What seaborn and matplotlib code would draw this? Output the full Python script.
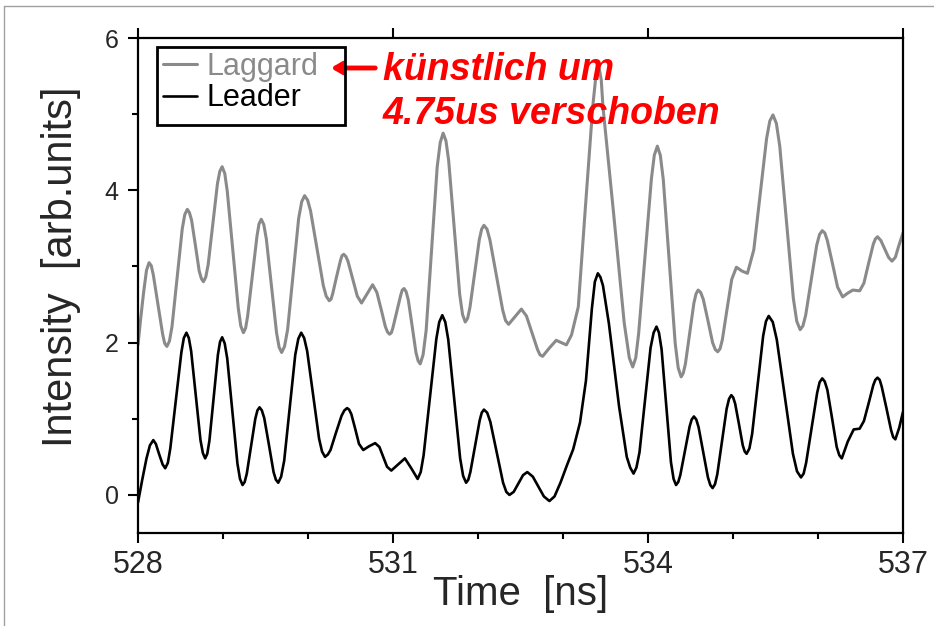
import numpy as np
import pandas as pd
import seaborn as sns
import matplotlib.pyplot as plt
from matplotlib.lines import Line2D
from matplotlib.patches import Rectangle

# values (time in ns, intensity in arb. units)
laggard_t = [528.00, 528.03, 528.065, 528.10, 528.13, 528.18, 528.235, 528.29, 528.34, 528.40,
             528.46, 528.52, 528.58, 528.63, 528.675, 528.72, 528.77, 528.825, 528.88, 528.935,
             528.99, 529.05, 529.115, 529.18, 529.24, 529.29, 529.345, 529.40, 529.45, 529.51,
             529.57, 529.63, 529.69, 529.76, 529.825, 529.89, 529.96, 530.03, 530.105, 530.18,
             530.25, 530.29, 530.335, 530.38, 530.42, 530.47, 530.525, 530.58, 530.63, 530.695,
             530.76, 530.81, 530.86, 530.91, 530.96, 531.00, 531.045, 531.09, 531.13, 531.18,
             531.225, 531.27, 531.32, 531.39, 531.455, 531.52, 531.59, 531.655, 531.72, 531.785,
             531.85, 531.905, 531.96, 532.015, 532.07, 532.14, 532.215, 532.29, 532.36, 532.435,
             532.51, 532.57, 532.635, 532.70, 532.76, 532.84, 532.92, 532.98, 533.04, 533.10,
             533.18, 533.265, 533.35, 533.385, 533.42, 533.45, 533.47, 533.595, 533.72, 533.78,
             533.82, 533.89, 533.965, 534.04, 534.11, 534.18, 534.25, 534.32, 534.39, 534.44,
             534.49, 534.54, 534.59, 534.65, 534.705, 534.76, 534.82, 534.875, 534.93, 534.985,
             535.04, 535.105, 535.17, 535.245, 535.32, 535.395, 535.47, 535.55, 535.63, 535.71,
             535.79, 535.855, 535.92, 535.985, 536.05, 536.11, 536.17, 536.23, 536.29, 536.35,
             536.41, 536.49, 536.54, 536.595, 536.65, 536.70, 536.74, 536.785, 536.83, 536.87,
             536.91, 536.95, 537.00]
laggard_v = [1.97, 2.30, 2.65, 2.95, 3.05, 2.89, 2.50, 2.11, 1.95, 2.21,
             2.85, 3.49, 3.75, 3.61, 3.28, 2.94, 2.80, 3.02, 3.56, 4.09,
             4.31, 3.99, 3.22, 2.45, 2.13, 2.35, 2.88, 3.40, 3.62, 3.36,
             2.75, 2.13, 1.87, 2.17, 2.90, 3.63, 3.93, 3.73, 3.24, 2.75,
             2.55, 2.64, 2.86, 3.07, 3.16, 3.07, 2.84, 2.61, 2.52, 2.64,
             2.76, 2.66, 2.44, 2.21, 2.11, 2.20, 2.41, 2.62, 2.71, 2.56,
             2.22, 1.87, 1.72, 2.16, 3.24, 4.31, 4.75, 4.39, 3.51, 2.63,
             2.27, 2.46, 2.91, 3.35, 3.54, 3.35, 2.89, 2.43, 2.24, 2.34,
             2.44, 2.35, 2.13, 1.91, 1.82, 1.93, 2.03, 2.00, 1.97, 2.10,
             2.47, 3.80, 5.10, 5.48, 5.64, 5.45, 5.10, 3.70, 2.26, 1.80,
             1.68, 2.12, 3.13, 4.15, 4.58, 4.14, 3.07, 1.99, 1.55, 1.72,
             2.12, 2.52, 2.69, 2.57, 2.29, 2.00, 1.88, 2.04, 2.44, 2.83,
             2.99, 2.94, 2.91, 3.22, 3.95, 4.68, 4.99, 4.58, 3.58, 2.58,
             2.17, 2.36, 2.82, 3.28, 3.47, 3.34, 3.04, 2.73, 2.60, 2.65,
             2.69, 2.68, 2.78, 3.04, 3.29, 3.39, 3.34, 3.23, 3.12, 3.07,
             3.12, 3.27, 3.44]
# extra readings close to the rounded tops and bottoms
laggard_t2 = [528.156, 528.314, 528.37, 528.55, 528.604, 528.746, 528.797, 528.963, 529.021,
              529.209, 529.266, 529.424, 529.48, 529.66, 529.724, 529.926, 529.996, 530.214,
              530.271, 530.399, 530.446, 530.935, 530.981, 531.109, 531.154, 531.296, 531.354,
              531.556, 531.623, 531.818, 531.878, 532.043, 532.106, 532.324, 532.729, 533.856,
              534.074, 534.145, 534.355, 534.415, 534.565, 534.619, 534.791, 534.848, 535.433,
              535.51, 535.75, 535.823, 536.018, 536.08, 536.674]
laggard_v2 = [3.01, 1.99, 2.02, 3.68, 3.71, 2.84, 2.86, 4.25, 4.22,
              2.22, 2.19, 3.56, 3.55, 1.94, 1.95, 3.85, 3.87, 2.61,
              2.57, 3.14, 3.13, 2.14, 2.13, 2.69, 2.67, 1.76, 1.84,
              4.63, 4.65, 2.37, 2.32, 3.49, 3.49, 2.29, 1.84, 1.80,
              4.46, 4.46, 1.67, 1.60, 2.64, 2.66, 1.91, 1.92, 4.91,
              4.88, 2.28, 2.22, 3.42, 3.44, 3.36]

leader_t = [528.00, 528.05, 528.10, 528.14, 528.18, 528.21, 528.25, 528.29, 528.32, 528.38,
            528.445, 528.51, 528.57, 528.625, 528.68, 528.735, 528.79, 528.84, 528.89, 528.94,
            528.99, 529.05, 529.11, 529.17, 529.23, 529.28, 529.33, 529.38, 529.43, 529.485,
            529.54, 529.595, 529.65, 529.72, 529.785, 529.85, 529.92, 529.99, 530.06, 530.13,
            530.20, 530.265, 530.33, 530.395, 530.46, 530.51, 530.555, 530.60, 530.65, 530.72,
            530.79, 530.84, 530.885, 530.93, 530.98, 531.06, 531.14, 531.215, 531.29, 531.36,
            531.435, 531.51, 531.58, 531.65, 531.72, 531.79, 531.86, 531.91, 531.965, 532.02,
            532.07, 532.145, 532.22, 532.295, 532.37, 532.42, 532.475, 532.53, 532.58, 532.645,
            532.71, 532.775, 532.84, 532.90, 532.97, 533.05, 533.12, 533.20, 533.27, 533.34,
            533.41, 533.47, 533.54, 533.66, 533.75, 533.83, 533.90, 533.965, 534.03, 534.10,
            534.16, 534.215, 534.27, 534.33, 534.38, 534.435, 534.49, 534.54, 534.595, 534.65,
            534.705, 534.76, 534.815, 534.87, 534.925, 534.98, 535.025, 535.07, 535.115, 535.16,
            535.225, 535.29, 535.355, 535.42, 535.515, 535.61, 535.705, 535.80, 535.86, 535.925,
            535.99, 536.05, 536.11, 536.165, 536.22, 536.28, 536.35, 536.42, 536.49, 536.54,
            536.595, 536.65, 536.70, 536.75, 536.805, 536.86, 536.91, 536.955, 537.00]
leader_v = [-0.10, 0.20, 0.48, 0.65, 0.72, 0.67, 0.53, 0.40, 0.35, 0.61,
            1.24, 1.87, 2.13, 1.89, 1.31, 0.72, 0.48, 0.71, 1.28, 1.84,
            2.07, 1.79, 1.10, 0.41, 0.13, 0.28, 0.64, 1.00, 1.15, 1.01,
            0.66, 0.30, 0.16, 0.45, 1.15, 1.84, 2.13, 1.89, 1.32, 0.74,
            0.50, 0.59, 0.82, 1.04, 1.14, 1.06, 0.87, 0.67, 0.59, 0.64,
            0.68, 0.63, 0.50, 0.37, 0.32, 0.40, 0.48, 0.35, 0.21, 0.52,
            1.29, 2.05, 2.36, 2.04, 1.26, 0.48, 0.16, 0.30, 0.64, 0.98,
            1.12, 0.96, 0.56, 0.16, 0.00, 0.04, 0.15, 0.26, 0.30, 0.24,
            0.11, -0.02, -0.08, -0.02, 0.16, 0.40, 0.60, 0.95, 1.50, 2.45,
            2.91, 2.75, 2.25, 1.16, 0.50, 0.28, 0.56, 1.25, 1.93, 2.21,
            1.91, 1.17, 0.43, 0.13, 0.26, 0.58, 0.90, 1.03, 0.89, 0.56,
            0.23, 0.09, 0.27, 0.70, 1.13, 1.31, 1.20, 0.93, 0.65, 0.54,
            0.80, 1.45, 2.09, 2.35, 2.04, 1.29, 0.54, 0.23, 0.42, 0.88,
            1.34, 1.53, 1.38, 1.01, 0.63, 0.48, 0.70, 0.86, 0.87, 0.97,
            1.20, 1.44, 1.54, 1.42, 1.14, 0.85, 0.73, 0.88, 1.09]
leader_t2 = [528.351, 528.539, 528.598, 528.763, 528.815, 528.965, 529.02, 529.20, 529.255,
             529.405, 529.457, 529.622, 529.684, 529.886, 529.955, 530.165, 530.233, 530.428,
             530.484, 531.326, 531.544, 531.615, 531.825, 531.886, 532.044, 532.108, 532.333,
             533.375, 533.44, 533.79, 533.864, 534.066, 534.129, 534.301, 534.356, 534.514,
             534.568, 534.733, 534.788, 534.953, 535.002, 535.138, 535.193, 535.388, 535.468,
             535.753, 535.831, 536.019, 536.079, 536.251, 536.674, 536.726, 536.884]
leader_v2 = [0.42, 2.06, 2.06, 0.55, 0.54, 2.01, 1.99, 0.21, 0.17,
             1.11, 1.11, 0.20, 0.24, 2.05, 2.06, 0.57, 0.53, 1.11,
             1.12, 0.30, 2.27, 2.27, 0.25, 0.20, 1.08, 1.08, 0.04,
             2.80, 2.86, 0.36, 0.36, 2.13, 2.13, 0.21, 0.17, 0.99,
             0.99, 0.13, 0.14, 1.26, 1.28, 0.57, 0.61, 2.28, 2.27,
             0.31, 0.28, 1.48, 1.49, 0.52, 1.51, 1.51, 0.76]

x_ticks = [528, 531, 534, 537]
y_ticks = [0, 2, 4, 6]
labels = ['Laggard', 'Leader']
note_1 = 'künstlich um'
note_2 = '4.75us verschoben'

sns.set_style('ticks')
plt.rcParams['font.family'] = ['Liberation Sans', 'DejaVu Sans']

fig = plt.figure(figsize=(9.34, 6.26), dpi=100)
ax = fig.add_axes([138 / 934, 1 - 533 / 626, 765 / 934, 495 / 626])

df_lag = pd.DataFrame({'t': laggard_t + laggard_t2, 'v': laggard_v + laggard_v2})
df_lead = pd.DataFrame({'t': leader_t + leader_t2, 'v': leader_v + leader_v2})
sns.lineplot(data=df_lag, x='t', y='v', color='#8a8a8a', lw=2.2, ax=ax, label=labels[0],
             solid_joinstyle='round')
sns.lineplot(data=df_lead, x='t', y='v', color='black', lw=1.9, ax=ax, label=labels[1],
             solid_joinstyle='round')

ax.set_xlim(528, 537)
ax.set_ylim(-0.5, 6)
ax.set_xticks(x_ticks)
ax.set_xticks(range(528, 538), minor=True)
ax.set_yticks(y_ticks)
ax.set_yticks([1, 3, 5], minor=True)
ax.tick_params(which='both', direction='out', width=1.5, color='black')
ax.tick_params(which='major', length=7)
ax.tick_params(which='minor', length=4)
ax.tick_params(axis='x', top=True, bottom=True, labelsize=22, pad=5)
ax.tick_params(axis='y', left=True, right=False, labelsize=18, pad=7)
for s in ax.spines.values():
    s.set_linewidth(1.6)
    s.set_color('black')

ax.set_xlabel('Time  [ns]', fontsize=29)
ax.set_ylabel('Intensity  [arb.units]', fontsize=30)
ax.xaxis.set_label_coords(0.5, -0.085)
ax.yaxis.set_label_coords(-0.075, 0.537)

leg = ax.legend(loc='upper left', bbox_to_anchor=(0.0327, 0.972), borderaxespad=0,
                fontsize=22, handlelength=1.1, handletextpad=0.33, labelspacing=0.05,
                borderpad=0, frameon=False)
leg.get_texts()[0].set_color('#8a8a8a')
leg.get_texts()[1].set_color('black')
fig.add_artist(Rectangle((157 / 934, 1 - 125 / 626), 188 / 934, 78 / 626,
                         transform=fig.transFigure, fill=False, edgecolor='black', lw=2))

# red handwritten note
fig.text(383 / 934, 1 - 80 / 626, note_1, color='red', fontsize=27, fontweight='bold',
         fontstyle='italic', va='baseline')
fig.text(383 / 934, 1 - 124 / 626, note_2, color='red', fontsize=27, fontweight='bold',
         fontstyle='italic', va='baseline')
ax.annotate('', xy=(328 / 934, 1 - 68 / 626), xytext=(378 / 934, 1 - 68 / 626),
            xycoords='figure fraction', textcoords='figure fraction',
            arrowprops=dict(arrowstyle='->,head_length=0.6,head_width=0.35', color='red', lw=3.5))

# thin frame of the scanned page
fig.add_artist(Line2D([4 / 934, 4 / 934], [0, 1 - 6 / 626], transform=fig.transFigure,
                      color='#a0a0a0', lw=1))
fig.add_artist(Line2D([4 / 934, 1], [1 - 6 / 626, 1 - 6 / 626], transform=fig.transFigure,
                      color='#a0a0a0', lw=1))

fig.savefig('out.png', dpi=100)
